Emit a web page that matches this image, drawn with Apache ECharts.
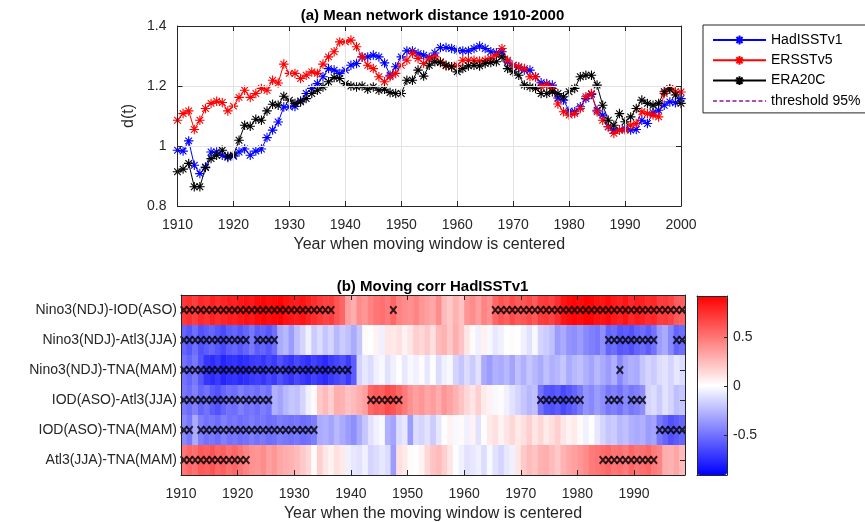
<!DOCTYPE html>
<html>
<head>
<meta charset="utf-8">
<script src="https://cdn.jsdelivr.net/npm/echarts@6/dist/echarts.min.js"></script>
<style>
  html, body { margin: 0; padding: 0; background: #fff; }
  #chart { width: 865px; height: 522px; }
</style>
</head>
<body>
<div id="chart"></div>
<script>
const FONT = 'Liberation Sans, Arial, Helvetica, sans-serif';

// (a) mean network distance, one value per year 1910-2000
const years = [];
for (let y = 1910; y <= 2000; y++) years.push(y);

const hadisst = [
  0.986, 0.983, 1.017, 0.936, 0.908, 0.930, 0.980, 0.980, 0.969, 0.962,
  0.966, 0.980, 0.990, 0.969, 0.983, 0.990, 1.028, 1.053, 1.080, 1.130,
  1.130, 1.132, 1.150, 1.175, 1.192, 1.208, 1.231, 1.258, 1.253, 1.242,
  1.253, 1.269, 1.275, 1.297, 1.297, 1.303, 1.297, 1.277, 1.236, 1.264,
  1.297, 1.317, 1.317, 1.308, 1.303, 1.295, 1.310, 1.328, 1.328, 1.325,
  1.319, 1.317, 1.317, 1.325, 1.333, 1.325, 1.314, 1.311, 1.314, 1.280,
  1.269, 1.262, 1.253, 1.253, 1.231, 1.211, 1.208, 1.203, 1.160, 1.153,
  1.117, 1.114, 1.131, 1.158, 1.172, 1.119, 1.103, 1.064, 1.053, 1.053,
  1.058, 1.053, 1.055, 1.086, 1.075, 1.111, 1.119, 1.136, 1.147, 1.144, 1.158
];
const ersst = [
  1.086, 1.108, 1.117, 1.055, 1.086, 1.125, 1.142, 1.149, 1.145, 1.117,
  1.133, 1.162, 1.186, 1.162, 1.175, 1.192, 1.186, 1.219, 1.210, 1.273,
  1.242, 1.242, 1.225, 1.236, 1.247, 1.242, 1.273, 1.297, 1.314, 1.347,
  1.347, 1.353, 1.331, 1.297, 1.269, 1.258, 1.231, 1.214, 1.231, 1.242,
  1.269, 1.286, 1.308, 1.292, 1.275, 1.290, 1.297, 1.281, 1.267, 1.264,
  1.269, 1.286, 1.286, 1.286, 1.283, 1.286, 1.292, 1.303, 1.325, 1.286,
  1.269, 1.264, 1.258, 1.231, 1.231, 1.197, 1.203, 1.192, 1.140, 1.114,
  1.103, 1.108, 1.125, 1.164, 1.175, 1.114, 1.086, 1.064, 1.042, 1.053,
  1.053, 1.069, 1.075, 1.114, 1.108, 1.103, 1.097, 1.175, 1.192, 1.181, 1.180
];
const era20c = [
  0.914, 0.923, 0.942, 0.864, 0.864, 0.928, 0.958, 0.969, 0.986, 0.966,
  0.969, 1.019, 1.069, 1.066, 1.089, 1.086, 1.117, 1.139, 1.136, 1.166,
  1.153, 1.142, 1.147, 1.158, 1.175, 1.186, 1.197, 1.214, 1.228, 1.225,
  1.208, 1.200, 1.197, 1.200, 1.189, 1.197, 1.186, 1.189, 1.178, 1.175,
  1.175, 1.219, 1.219, 1.253, 1.233, 1.269, 1.281, 1.278, 1.269, 1.264,
  1.247, 1.258, 1.267, 1.269, 1.267, 1.275, 1.278, 1.281, 1.297, 1.258,
  1.247, 1.236, 1.203, 1.197, 1.192, 1.175, 1.175, 1.181, 1.175, 1.164,
  1.181, 1.192, 1.231, 1.236, 1.236, 1.203, 1.136, 1.086, 1.069, 1.108,
  1.081, 1.097, 1.125, 1.153, 1.142, 1.136, 1.142, 1.181, 1.189, 1.170, 1.142
];
const threshold95 = 1.197;

// (b) moving correlations, one column per year 1910-1998
const corrStart = 1910;
const rowNames = [
  'Nino3(NDJ)-IOD(ASO)', 'Nino3(NDJ)-Atl3(JJA)', 'Nino3(NDJ)-TNA(MAM)',
  'IOD(ASO)-Atl3(JJA)', 'IOD(ASO)-TNA(MAM)', 'Atl3(JJA)-TNA(MAM)'
];
const corrNinoIod = [
  0.72, 0.75, 0.70, 0.78, 0.74, 0.80, 0.76, 0.79, 0.82, 0.80,
  0.84, 0.86, 0.83, 0.88, 0.90, 0.87, 0.89, 0.91, 0.86, 0.84,
  0.82, 0.85, 0.80, 0.76, 0.72, 0.68, 0.70, 0.62, 0.55, 0.35,
  0.30, 0.42, 0.38, 0.45, 0.50, 0.52, 0.48, 0.55, 0.45, 0.42,
  0.40, 0.45, 0.38, 0.35, 0.32, 0.42, 0.25, 0.20, 0.28, 0.22,
  0.38, 0.42, 0.35, 0.45, 0.40, 0.55, 0.62, 0.58, 0.65, 0.60,
  0.62, 0.66, 0.60, 0.70, 0.72, 0.68, 0.75, 0.85, 0.88, 0.90,
  0.88, 0.91, 0.90, 0.86, 0.85, 0.88, 0.83, 0.80, 0.85, 0.78,
  0.82, 0.80, 0.76, 0.78, 0.70, 0.72, 0.68, 0.60, 0.58
];
const corrNinoAtl3 = [
  -0.55, -0.60, -0.52, -0.62, -0.58, -0.55, -0.60, -0.65, -0.58, -0.55,
  -0.60, -0.55, -0.48, -0.58, -0.55, -0.60, -0.52, -0.30, -0.25, -0.35,
  -0.22, -0.15, -0.05, -0.18, -0.12, -0.20, -0.15, -0.25, -0.18, -0.22,
  -0.30, -0.20, 0.02, 0.00, 0.05, -0.05, 0.10, 0.08, 0.12, 0.05,
  0.10, 0.18, 0.15, 0.20, 0.12, 0.25, 0.28, 0.20, 0.30, 0.22,
  0.10, 0.02, -0.05, 0.05, -0.02, -0.08, -0.05, 0.00, 0.02, 0.00,
  -0.05, -0.10, -0.02, -0.15, -0.18, -0.22, -0.35, -0.30, -0.38, -0.40,
  -0.35, -0.42, -0.45, -0.48, -0.40, -0.55, -0.52, -0.60, -0.58, -0.62,
  -0.55, -0.52, -0.58, -0.50, -0.35, -0.30, -0.42, -0.55, -0.52
];
const corrNinoTna = [
  -0.50, -0.55, -0.48, -0.60, -0.72, -0.75, -0.70, -0.78, -0.74, -0.72,
  -0.76, -0.74, -0.70, -0.68, -0.72, -0.66, -0.70, -0.62, -0.68, -0.72,
  -0.65, -0.70, -0.74, -0.68, -0.72, -0.76, -0.70, -0.66, -0.62, -0.70,
  -0.58, -0.15, -0.08, -0.12, -0.05, -0.02, -0.10, -0.05, 0.00, -0.08,
  -0.02, -0.05, 0.02, -0.08, 0.00, -0.12, -0.05, -0.02, -0.15, -0.20,
  -0.12, -0.18, -0.10, -0.30, -0.35, -0.28, -0.30, -0.25, -0.32, -0.22,
  -0.28, -0.20, -0.25, -0.30, -0.22, -0.28, -0.25, -0.20, -0.30, -0.25,
  -0.22, -0.28, -0.32, -0.25, -0.30, -0.35, -0.28, -0.42, -0.32, -0.28,
  -0.30, -0.20, -0.15, -0.18, -0.12, -0.10, -0.15, -0.08, -0.12
];
const corrIodAtl3 = [
  -0.48, -0.52, -0.45, -0.55, -0.50, -0.58, -0.62, -0.55, -0.50, -0.52,
  -0.45, -0.50, -0.48, -0.52, -0.46, -0.50, -0.28, -0.32, -0.25, -0.20,
  -0.22, -0.15, -0.05, 0.02, 0.20, 0.25, 0.18, 0.30, 0.28, 0.22,
  0.25, 0.30, 0.35, 0.55, 0.60, 0.58, 0.65, 0.62, 0.55, 0.48,
  0.40, 0.35, 0.38, 0.32, 0.36, 0.30, 0.38, 0.34, 0.28, 0.22,
  0.15, 0.10, 0.18, 0.08, 0.05, -0.02, 0.02, -0.05, -0.10, -0.15,
  -0.20, -0.25, -0.22, -0.50, -0.60, -0.62, -0.58, -0.65, -0.60, -0.55,
  -0.48, -0.38, -0.42, -0.35, -0.40, -0.48, -0.45, -0.50, -0.42, -0.48,
  -0.45, -0.40, -0.15, -0.12, -0.18, -0.10, -0.15, -0.22, -0.20
];
const corrIodTna = [
  -0.42, -0.48, -0.30, -0.45, -0.50, -0.48, -0.52, -0.45, -0.50, -0.48,
  -0.52, -0.50, -0.46, -0.50, -0.48, -0.52, -0.50, -0.46, -0.48, -0.50,
  -0.48, -0.52, -0.50, -0.46, -0.30, -0.28, -0.32, -0.25, -0.30, -0.35,
  -0.40, -0.30, -0.20, -0.10, -0.05, -0.02, -0.28, -0.32, -0.12, -0.08,
  -0.35, -0.12, -0.15, -0.10, -0.18, -0.08, 0.00, 0.05, -0.02, 0.02,
  -0.05, 0.05, -0.10, 0.00, 0.08, 0.12, 0.05, 0.10, 0.15, 0.08,
  0.12, 0.18, 0.10, 0.15, 0.08, 0.12, 0.18, 0.10, 0.05, 0.08,
  0.02, -0.05, 0.00, -0.08, -0.15, -0.20, -0.18, -0.25, -0.22, -0.28,
  -0.30, -0.28, -0.35, -0.32, -0.48, -0.55, -0.62, -0.58, -0.55
];
const corrAtl3Tna = [
  0.50, 0.55, 0.52, 0.60, 0.58, 0.62, 0.55, 0.58, 0.52, 0.55,
  0.50, 0.45, 0.40, 0.38, 0.42, 0.35, 0.38, 0.32, 0.30, 0.28,
  0.25, 0.20, 0.15, 0.02, 0.18, 0.10, 0.05, 0.12, 0.08, -0.05,
  -0.08, -0.10, -0.05, -0.15, -0.12, -0.08, -0.12, -0.35, 0.12, 0.08,
  0.02, 0.00, 0.05, 0.15, 0.22, 0.25, 0.18, 0.10, 0.00, -0.05,
  -0.10, -0.08, -0.05, -0.12, -0.02, -0.10, -0.15, -0.08, -0.05, 0.10,
  0.20, 0.25, 0.22, 0.28, 0.30, 0.25, 0.20, 0.28, 0.32, 0.35,
  0.38, 0.42, 0.48, 0.50, 0.52, 0.55, 0.50, 0.52, 0.48, 0.55,
  0.50, 0.52, 0.55, 0.48, 0.45, 0.30, 0.28, 0.32, 0.25
];
const corrRows = [corrNinoIod, corrNinoAtl3, corrNinoTna, corrIodAtl3, corrIodTna, corrAtl3Tna];

// years marked significant (x) in each row
const sigNinoIod = [
  1910, 1911, 1912, 1913, 1914, 1915, 1916, 1917, 1918, 1919, 1920, 1921, 1922, 1923,
  1924, 1925, 1926, 1927, 1928, 1929, 1930, 1931, 1932, 1933, 1934, 1935, 1936,
  1947,
  1965, 1966, 1967, 1968, 1969, 1970, 1971, 1972, 1973, 1974, 1975, 1976, 1977, 1978,
  1979, 1980, 1981, 1982, 1983, 1984, 1985, 1986, 1987, 1988, 1989, 1990, 1991, 1992,
  1993, 1994, 1995, 1996, 1997, 1998
];
const sigNinoAtl3 = [
  1910, 1911, 1912, 1913, 1914, 1915, 1916, 1917, 1918, 1919, 1920, 1921,
  1923, 1924, 1925, 1926,
  1985, 1986, 1987, 1988, 1989, 1990, 1991, 1992, 1993,
  1997, 1998
];
const sigNinoTna = [
  1910, 1911, 1912, 1913, 1914, 1915, 1916, 1917, 1918, 1919, 1920, 1921, 1922, 1923,
  1924, 1925, 1926, 1927, 1928, 1929, 1930, 1931, 1932, 1933, 1934, 1935, 1936, 1937,
  1938, 1939,
  1987
];
const sigIodAtl3 = [
  1910, 1911, 1912, 1913, 1914, 1915, 1916, 1917, 1918, 1919, 1920, 1921, 1922, 1923,
  1924, 1925,
  1943, 1944, 1945, 1946, 1947, 1948,
  1973, 1974, 1975, 1976, 1977, 1978, 1979, 1980,
  1985, 1986, 1987, 1989, 1990, 1991
];
const sigIodTna = [
  1910, 1911,
  1913, 1914, 1915, 1916, 1917, 1918, 1919, 1920, 1921, 1922, 1923, 1924, 1925, 1926,
  1927, 1928, 1929, 1930, 1931, 1932, 1933,
  1994, 1995, 1996, 1997, 1998
];
const sigAtl3Tna = [
  1910, 1911, 1912, 1913, 1914, 1915, 1916, 1917, 1918, 1919, 1920, 1921,
  1984, 1985, 1986, 1987, 1988, 1989, 1990, 1991, 1992, 1993
];
const sigRows = [sigNinoIod, sigNinoAtl3, sigNinoTna, sigIodAtl3, sigIodTna, sigAtl3Tna];

const heatData = [];
corrRows.forEach((vals, r) => vals.forEach((v, i) => heatData.push([corrStart + i, r, v])));
const crossData = [];
sigRows.forEach((ys, r) => ys.forEach(y => crossData.push([y + 0.5, r])));

const STAR = 'path://M0,-10L0,10M-10,0L10,0M-7,-7L7,7M-7,7L7,-7';
const CROSS = 'path://M0,0L10,10M0,10L10,0';
const AXIS_COLOR = '#262626';
const txt = { fontFamily: FONT, fontSize: 14, color: AXIS_COLOR };
const yearFmt = v => String(v);

function lineSeries(name, data, color) {
  return {
    name, type: 'line', xAxisIndex: 0, yAxisIndex: 0,
    data: data.map((v, i) => [years[i], v]),
    symbol: STAR, symbolSize: 9.5,
    lineStyle: { color, width: 1 },
    itemStyle: { color, borderColor: color, borderWidth: 1.1 },
    emphasis: { disabled: true }
  };
}

function boxAxis(extra) {
  return Object.assign({
    axisLine: { show: true, onZero: false, lineStyle: { color: AXIS_COLOR, width: 1 } },
    axisTick: { show: true, inside: true, length: 5, lineStyle: { color: AXIS_COLOR } },
    axisLabel: Object.assign({ show: false }, txt),
    splitLine: { show: false },
    z: 10
  }, extra);
}

const chart = echarts.init(document.getElementById('chart'));
const option = {
  backgroundColor: '#fff',
  animation: false,
  textStyle: { fontFamily: FONT },
  title: [
    { text: '(a) Mean network distance 1910-2000', left: 'center', top: 8, padding: 0,
      textStyle: { fontFamily: FONT, fontSize: 15, fontWeight: 'bold', color: '#000' } },
    { text: '(b) Moving corr HadISSTv1', left: 'center', top: 279, padding: 0,
      textStyle: { fontFamily: FONT, fontSize: 15, fontWeight: 'bold', color: '#000' } }
  ],
  legend: {
    orient: 'vertical', left: 703, top: 25,
    padding: [8, 8, 5, 9], itemGap: 6.3, itemWidth: 53, itemHeight: 11,
    borderColor: AXIS_COLOR, borderWidth: 1, backgroundColor: '#fff',
    textStyle: { fontFamily: FONT, fontSize: 14, color: '#000' },
    data: ['HadISSTv1', 'ERSSTv5', 'ERA20C',
      { name: 'threshold 95%', itemStyle: { opacity: 0 } }]
  },
  grid: [
    { left: 177.5, top: 26, width: 503.5, height: 180, outerBoundsMode: 'none' },
    { left: 181, top: 295, width: 504, height: 180, outerBoundsMode: 'none' },
    { left: 697, top: 296, width: 30, height: 179, outerBoundsMode: 'none' }
  ],
  xAxis: [
    boxAxis({ type: 'value', gridIndex: 0, position: 'bottom', min: 1910, max: 2000, interval: 10,
      axisLabel: Object.assign({ show: true, margin: 12, formatter: yearFmt }, txt),
      splitLine: { show: true, lineStyle: { color: '#e3e3e3', width: 1 } },
      name: 'Year when moving window is centered', nameLocation: 'middle', nameGap: 31,
      nameTextStyle: { fontFamily: FONT, fontSize: 16, color: AXIS_COLOR } }),
    boxAxis({ type: 'value', gridIndex: 0, position: 'top', min: 1910, max: 2000, interval: 10 }),
    boxAxis({ type: 'value', gridIndex: 1, position: 'bottom', min: 1910, max: 1999, interval: 10,
      axisLabel: Object.assign({ show: true, margin: 12, showMaxLabel: false, formatter: yearFmt }, txt),
      name: 'Year when the moving window is centered', nameLocation: 'middle', nameGap: 31,
      nameTextStyle: { fontFamily: FONT, fontSize: 16, color: AXIS_COLOR } }),
    boxAxis({ type: 'value', gridIndex: 1, position: 'top', min: 1910, max: 1999, interval: 10 }),
    boxAxis({ type: 'value', gridIndex: 2, position: 'bottom', min: 0, max: 1, axisTick: { show: false } }),
    boxAxis({ type: 'value', gridIndex: 2, position: 'top', min: 0, max: 1, axisTick: { show: false } })
  ],
  yAxis: [
    boxAxis({ type: 'value', gridIndex: 0, position: 'left', min: 0.8, max: 1.4, interval: 0.2,
      axisLabel: Object.assign({ show: true, margin: 11 }, txt),
      splitLine: { show: true, lineStyle: { color: '#e3e3e3', width: 1 } },
      name: 'd(t)', nameLocation: 'middle', nameGap: 35, nameRotate: 90,
      nameTextStyle: { fontFamily: FONT, fontSize: 16, color: AXIS_COLOR } }),
    boxAxis({ type: 'value', gridIndex: 0, position: 'right', min: 0.8, max: 1.4, interval: 0.2 }),
    boxAxis({ type: 'category', gridIndex: 1, position: 'left', inverse: true, data: rowNames,
      axisTick: { show: true, inside: true, length: 5, alignWithLabel: true, lineStyle: { color: AXIS_COLOR } },
      axisLabel: Object.assign({ show: true, margin: 4 }, txt) }),
    boxAxis({ type: 'category', gridIndex: 1, position: 'right', inverse: true, data: rowNames,
      axisTick: { show: true, inside: true, length: 5, alignWithLabel: true, lineStyle: { color: AXIS_COLOR } } }),
    boxAxis({ type: 'value', gridIndex: 2, position: 'left', min: -0.91, max: 0.92, axisTick: { show: false } }),
    boxAxis({ type: 'value', gridIndex: 2, position: 'right', min: -0.91, max: 0.92,
      axisTick: { show: true, inside: true, length: 3, customValues: [-0.5, 0, 0.5], lineStyle: { color: AXIS_COLOR } },
      axisLabel: Object.assign({ show: true, margin: 6, customValues: [-0.5, 0, 0.5] }, txt) })
  ],
  visualMap: {
    type: 'continuous', min: -0.91, max: 0.92, dimension: 2, seriesIndex: 4,
    left: 697, top: 296, itemWidth: 30, itemHeight: 179, padding: 0,
    calculable: false, hoverLink: false, text: null,
    inRange: { color: ['#0000ff', '#ffffff', '#ff0000'] }
  },
  series: [
    lineSeries('HadISSTv1', hadisst, '#0000ff'),
    lineSeries('ERSSTv5', ersst, '#ff0000'),
    lineSeries('ERA20C', era20c, '#000000'),
    {
      name: 'threshold 95%', type: 'line', xAxisIndex: 0, yAxisIndex: 0, data: [],
      symbol: 'none', lineStyle: { color: '#b04fb0', width: 1, type: [4, 2.5] },
      itemStyle: { color: '#b04fb0' },
      markLine: {
        silent: true, symbol: 'none', label: { show: false },
        lineStyle: { color: '#f4a07c', width: 1, type: [3, 2] },
        data: [{ yAxis: threshold95 }]
      }
    },
    {
      type: 'custom', xAxisIndex: 2, yAxisIndex: 2, data: heatData,
      encode: { x: 0, y: 1 },
      renderItem: function (params, api) {
        const p0 = api.coord([api.value(0), api.value(1)]);
        const p1 = api.coord([api.value(0) + 1, api.value(1)]);
        const h = api.size([0, 1])[1];
        return {
          type: 'rect',
          shape: { x: p0[0], y: p0[1] - h / 2, width: p1[0] - p0[0] + 0.5, height: h },
          style: { fill: api.visual('color') }
        };
      }
    },
    {
      type: 'scatter', xAxisIndex: 2, yAxisIndex: 2, data: crossData,
      symbol: CROSS, symbolSize: [6.5, 7.5],
      itemStyle: { color: '#000', borderColor: '#000', borderWidth: 2 },
      emphasis: { disabled: true }
    }
  ]
};
chart.setOption(option);
</script>
</body>
</html>
